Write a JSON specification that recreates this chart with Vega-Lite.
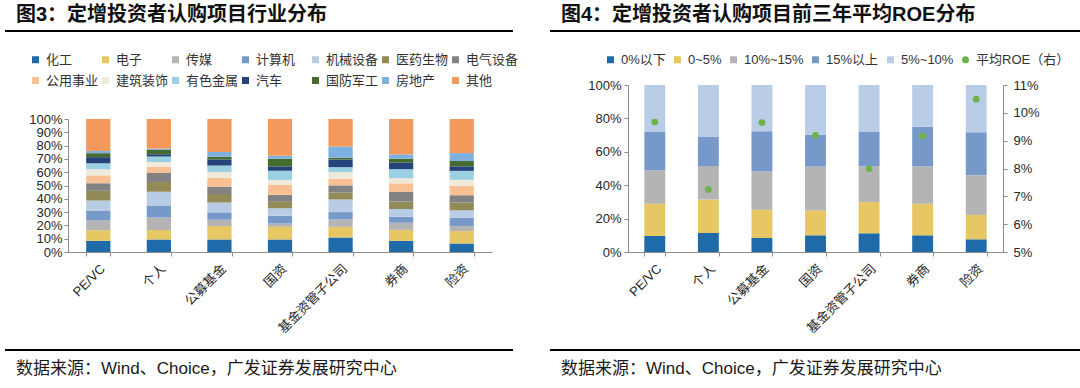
{
  "$schema": "https://vega.github.io/schema/vega-lite/v6.json",
  "padding": {"top": 5, "left": 4, "right": 0, "bottom": 0},
  "background": "white",
  "datasets": {
    "blank": [{}],
    "ind": [
      {"investor":"PE/VC","industry":"化工","k":0,"share":8.4},{"investor":"PE/VC","industry":"电子","k":1,"share":8.0},{"investor":"PE/VC","industry":"传媒","k":2,"share":7.4},{"investor":"PE/VC","industry":"计算机","k":3,"share":7.4},{"investor":"PE/VC","industry":"机械设备","k":4,"share":7.5},{"investor":"PE/VC","industry":"医药生物","k":5,"share":7.3},{"investor":"PE/VC","industry":"电气设备","k":6,"share":5.7},{"investor":"PE/VC","industry":"公用事业","k":7,"share":5.9},{"investor":"PE/VC","industry":"建筑装饰","k":8,"share":4.6},{"investor":"PE/VC","industry":"有色金属","k":9,"share":4.5},{"investor":"PE/VC","industry":"汽车","k":10,"share":4.6},{"investor":"PE/VC","industry":"国防军工","k":11,"share":3.0},{"investor":"PE/VC","industry":"房地产","k":12,"share":1.7},{"investor":"PE/VC","industry":"其他","k":13,"share":24.0},
      {"investor":"个人","industry":"化工","k":0,"share":9.4},{"investor":"个人","industry":"电子","k":1,"share":7.1},{"investor":"个人","industry":"传媒","k":2,"share":9.4},{"investor":"个人","industry":"计算机","k":3,"share":9.1},{"investor":"个人","industry":"机械设备","k":4,"share":10.3},{"investor":"个人","industry":"医药生物","k":5,"share":7.3},{"investor":"个人","industry":"电气设备","k":6,"share":6.8},{"investor":"个人","industry":"公用事业","k":7,"share":4.8},{"investor":"个人","industry":"建筑装饰","k":8,"share":3.4},{"investor":"个人","industry":"有色金属","k":9,"share":4.2},{"investor":"个人","industry":"汽车","k":10,"share":1.7},{"investor":"个人","industry":"国防军工","k":11,"share":3.2},{"investor":"个人","industry":"房地产","k":12,"share":1.0},{"investor":"个人","industry":"其他","k":13,"share":22.3},
      {"investor":"公募基金","industry":"化工","k":0,"share":9.4},{"investor":"公募基金","industry":"电子","k":1,"share":10.1},{"investor":"公募基金","industry":"传媒","k":2,"share":4.8},{"investor":"公募基金","industry":"计算机","k":3,"share":5.5},{"investor":"公募基金","industry":"机械设备","k":4,"share":7.4},{"investor":"公募基金","industry":"医药生物","k":5,"share":6.4},{"investor":"公募基金","industry":"电气设备","k":6,"share":5.6},{"investor":"公募基金","industry":"公用事业","k":7,"share":6.4},{"investor":"公募基金","industry":"建筑装饰","k":8,"share":4.5},{"investor":"公募基金","industry":"有色金属","k":9,"share":4.9},{"investor":"公募基金","industry":"汽车","k":10,"share":4.6},{"investor":"公募基金","industry":"国防军工","k":11,"share":2.0},{"investor":"公募基金","industry":"房地产","k":12,"share":3.6},{"investor":"公募基金","industry":"其他","k":13,"share":24.8},
      {"investor":"国资","industry":"化工","k":0,"share":9.4},{"investor":"国资","industry":"电子","k":1,"share":9.6},{"investor":"国资","industry":"传媒","k":2,"share":2.4},{"investor":"国资","industry":"计算机","k":3,"share":5.9},{"investor":"国资","industry":"机械设备","k":4,"share":5.6},{"investor":"国资","industry":"医药生物","k":5,"share":5.3},{"investor":"国资","industry":"电气设备","k":6,"share":4.8},{"investor":"国资","industry":"公用事业","k":7,"share":7.4},{"investor":"国资","industry":"建筑装饰","k":8,"share":3.8},{"investor":"国资","industry":"有色金属","k":9,"share":6.9},{"investor":"国资","industry":"汽车","k":10,"share":3.3},{"investor":"国资","industry":"国防军工","k":11,"share":5.6},{"investor":"国资","industry":"房地产","k":12,"share":2.4},{"investor":"国资","industry":"其他","k":13,"share":27.6},
      {"investor":"基金资管子公司","industry":"化工","k":0,"share":10.9},{"investor":"基金资管子公司","industry":"电子","k":1,"share":8.0},{"investor":"基金资管子公司","industry":"传媒","k":2,"share":5.6},{"investor":"基金资管子公司","industry":"计算机","k":3,"share":5.5},{"investor":"基金资管子公司","industry":"机械设备","k":4,"share":9.5},{"investor":"基金资管子公司","industry":"医药生物","k":5,"share":5.2},{"investor":"基金资管子公司","industry":"电气设备","k":6,"share":5.4},{"investor":"基金资管子公司","industry":"公用事业","k":7,"share":5.1},{"investor":"基金资管子公司","industry":"建筑装饰","k":8,"share":4.8},{"investor":"基金资管子公司","industry":"有色金属","k":9,"share":3.8},{"investor":"基金资管子公司","industry":"汽车","k":10,"share":5.7},{"investor":"基金资管子公司","industry":"国防军工","k":11,"share":1.3},{"investor":"基金资管子公司","industry":"房地产","k":12,"share":8.5},{"investor":"基金资管子公司","industry":"其他","k":13,"share":20.7},
      {"investor":"券商","industry":"化工","k":0,"share":8.4},{"investor":"券商","industry":"电子","k":1,"share":8.2},{"investor":"券商","industry":"传媒","k":2,"share":5.4},{"investor":"券商","industry":"计算机","k":3,"share":4.5},{"investor":"券商","industry":"机械设备","k":4,"share":5.8},{"investor":"券商","industry":"医药生物","k":5,"share":5.7},{"investor":"券商","industry":"电气设备","k":6,"share":7.3},{"investor":"券商","industry":"公用事业","k":7,"share":6.3},{"investor":"券商","industry":"建筑装饰","k":8,"share":3.9},{"investor":"券商","industry":"有色金属","k":9,"share":6.8},{"investor":"券商","industry":"汽车","k":10,"share":4.9},{"investor":"券商","industry":"国防军工","k":11,"share":3.0},{"investor":"券商","industry":"房地产","k":12,"share":3.2},{"investor":"券商","industry":"其他","k":13,"share":26.6},
      {"investor":"险资","industry":"化工","k":0,"share":6.4},{"investor":"险资","industry":"电子","k":1,"share":9.3},{"investor":"险资","industry":"传媒","k":2,"share":3.9},{"investor":"险资","industry":"计算机","k":3,"share":6.1},{"investor":"险资","industry":"机械设备","k":4,"share":5.6},{"investor":"险资","industry":"医药生物","k":5,"share":5.9},{"investor":"险资","industry":"电气设备","k":6,"share":5.5},{"investor":"险资","industry":"公用事业","k":7,"share":7.0},{"investor":"险资","industry":"建筑装饰","k":8,"share":4.6},{"investor":"险资","industry":"有色金属","k":9,"share":6.7},{"investor":"险资","industry":"汽车","k":10,"share":3.4},{"investor":"险资","industry":"国防军工","k":11,"share":4.0},{"investor":"险资","industry":"房地产","k":12,"share":6.0},{"investor":"险资","industry":"其他","k":13,"share":25.6}
    ],
    "roeDist": [
      {"investor":"PE/VC","range":"0%以下","k":0,"share":9.6},{"investor":"PE/VC","range":"0~5%","k":1,"share":19.3},{"investor":"PE/VC","range":"10%~15%","k":2,"share":20.0},{"investor":"PE/VC","range":"15%以上","k":3,"share":23.0},{"investor":"PE/VC","range":"5%~10%","k":4,"share":28.1},
      {"investor":"个人","range":"0%以下","k":0,"share":11.4},{"investor":"个人","range":"0~5%","k":1,"share":20.1},{"investor":"个人","range":"10%~15%","k":2,"share":20.0},{"investor":"个人","range":"15%以上","k":3,"share":17.6},{"investor":"个人","range":"5%~10%","k":4,"share":30.9},
      {"investor":"公募基金","range":"0%以下","k":0,"share":8.4},{"investor":"公募基金","range":"0~5%","k":1,"share":16.9},{"investor":"公募基金","range":"10%~15%","k":2,"share":23.0},{"investor":"公募基金","range":"15%以上","k":3,"share":24.0},{"investor":"公募基金","range":"5%~10%","k":4,"share":27.7},
      {"investor":"国资","range":"0%以下","k":0,"share":10.0},{"investor":"国资","range":"0~5%","k":1,"share":14.9},{"investor":"国资","range":"10%~15%","k":2,"share":26.2},{"investor":"国资","range":"15%以上","k":3,"share":19.2},{"investor":"国资","range":"5%~10%","k":4,"share":29.7},
      {"investor":"基金资管子公司","range":"0%以下","k":0,"share":11.2},{"investor":"基金资管子公司","range":"0~5%","k":1,"share":18.7},{"investor":"基金资管子公司","range":"10%~15%","k":2,"share":21.4},{"investor":"基金资管子公司","range":"15%以上","k":3,"share":20.6},{"investor":"基金资管子公司","range":"5%~10%","k":4,"share":28.1},
      {"investor":"券商","range":"0%以下","k":0,"share":10.0},{"investor":"券商","range":"0~5%","k":1,"share":18.9},{"investor":"券商","range":"10%~15%","k":2,"share":22.4},{"investor":"券商","range":"15%以上","k":3,"share":23.7},{"investor":"券商","range":"5%~10%","k":4,"share":25.0},
      {"investor":"险资","range":"0%以下","k":0,"share":7.6},{"investor":"险资","range":"0~5%","k":1,"share":14.6},{"investor":"险资","range":"10%~15%","k":2,"share":23.7},{"investor":"险资","range":"15%以上","k":3,"share":25.8},{"investor":"险资","range":"5%~10%","k":4,"share":28.3}
    ],
    "roeAvg": [
      {"investor":"PE/VC","roe":9.67},{"investor":"个人","roe":7.25},{"investor":"公募基金","roe":9.65},{"investor":"国资","roe":9.19},{"investor":"基金资管子公司","roe":7.99},{"investor":"券商","roe":9.17},{"investor":"险资","roe":10.49}
    ]
  },
  "config": {
    "view": {"stroke": null},
    "font": "Liberation Sans, Noto Sans CJK SC",
    "axis": {
      "labelFont": "Liberation Sans, Noto Sans CJK SC",
      "labelFontSize": 13,
      "labelColor": "#262626",
      "domainColor": "#8c8c8c",
      "tickColor": "#8c8c8c",
      "grid": false,
      "tickSize": 4
    },
    "legend": {
      "labelFont": "Liberation Sans, Noto Sans CJK SC",
      "labelFontSize": 13,
      "labelColor": "#333333",
      "padding": 0,
      "symbolSize": 49,
      "symbolStrokeWidth": 0,
      "labelOffset": 4
    },
    "title": {"anchor": "start", "font": "Liberation Sans, Noto Sans CJK SC", "color": "#111111"}
  },
  "resolve": {"scale": {"color": "independent"}, "legend": {"color": "independent"}},
  "spacing": 30,
  "hconcat": [
    {
      "spacing": 0,
      "resolve": {"scale": {"color": "independent"}, "legend": {"color": "independent"}},
      "vconcat": [
        {
          "width": 508,
          "height": 22,
          "title": {"text": "图3：定增投资者认购项目行业分布", "fontSize": 20, "fontWeight": "bold", "offset": 5, "dx": 12},
          "data": {"name": "blank"},
          "mark": {"type": "rule", "color": "#000000", "strokeWidth": 2},
          "encoding": {
            "x": {"datum": 0, "type": "quantitative", "scale": {"domain": [0, 1]}, "axis": null},
            "x2": {"datum": 1},
            "y": {"datum": 1, "type": "quantitative", "scale": {"domain": [0, 1]}, "axis": null}
          }
        },
        {
          "spacing": 0,
          "resolve": {"scale": {"color": "independent"}, "legend": {"color": "independent"}},
          "hconcat": [
            {
              "width": 1,
              "height": 1,
              "data": {"name": "blank"},
              "mark": {"type": "text", "text": ""},
              "encoding": {}
            },
            {
              "width": 424,
              "height": 133,
              "data": {"name": "ind"},
              "mark": {"type": "bar"},
              "encoding": {
                "x": {
                  "field": "investor", "type": "nominal",
                  "scale": {"domain": ["PE/VC","个人","公募基金","国资","基金资管子公司","券商","险资"], "paddingInner": 0.6, "paddingOuter": 0.3},
                  "axis": {"title": null, "labelAngle": -45, "tickBand": "extent", "labelPadding": 6, "minExtent": 97}
                },
                "y": {
                  "field": "share", "type": "quantitative", "stack": "normalize",
                  "scale": {"domain": [0, 1]},
                  "axis": {"title": null, "values": [0,0.1,0.2,0.3,0.4,0.5,0.6,0.7,0.8,0.9,1], "format": ".0%", "labelFontSize": 13, "labelPadding": 2, "minExtent": 62, "labelOverlap": false}
                },
                "color": {
                  "field": "industry", "type": "nominal",
                  "scale": {
                    "domain": ["化工","电子","传媒","计算机","机械设备","医药生物","电气设备","公用事业","建筑装饰","有色金属","汽车","国防军工","房地产","其他"],
                    "range": ["#1f6aa8","#e6c764","#b4b4b4","#7799c9","#b8cce6","#928b57","#828282","#f9c094","#f0eadb","#9ad0e1","#25427a","#456b2f","#7eb1e0","#f2995b"]
                  },
                  "legend": {"title": null, "orient": "none", "legendX": -39, "legendY": -66, "direction": "horizontal", "columns": 7, "gridAlign": "all", "columnPadding": -4, "rowPadding": 7, "symbolType": "square"}
                },
                "order": {"field": "k", "type": "quantitative"}
              }
            }
          ]
        },
        {
          "width": 508,
          "height": 2,
          "title": {"text": "数据来源：Wind、Choice，广发证券发展研究中心", "orient": "bottom", "fontSize": 17, "fontWeight": "normal", "offset": 10, "dx": 12, "color": "#1a1a1a"},
          "data": {"name": "blank"},
          "mark": {"type": "rule", "color": "#000000", "strokeWidth": 2},
          "encoding": {
            "x": {"datum": 0, "type": "quantitative", "scale": {"domain": [0, 1]}, "axis": null},
            "x2": {"datum": 1}
          }
        }
      ]
    },
    {
      "spacing": 0,
      "resolve": {"scale": {"color": "independent"}, "legend": {"color": "independent"}},
      "vconcat": [
        {
          "width": 535,
          "height": 22,
          "title": {"text": "图4：定增投资者认购项目前三年平均ROE分布", "fontSize": 20, "fontWeight": "bold", "offset": 5, "dx": 12},
          "data": {"name": "blank"},
          "mark": {"type": "rule", "color": "#000000", "strokeWidth": 2},
          "encoding": {
            "x": {"datum": 0, "type": "quantitative", "scale": {"domain": [0, 1]}, "axis": null},
            "x2": {"datum": 1},
            "y": {"datum": 1, "type": "quantitative", "scale": {"domain": [0, 1]}, "axis": null}
          }
        },
        {
          "spacing": 0,
          "resolve": {"scale": {"color": "independent"}, "legend": {"color": "independent"}},
          "hconcat": [
            {
              "width": 1,
              "height": 1,
              "data": {"name": "blank"},
              "mark": {"type": "text", "text": ""},
              "encoding": {}
            },
            {
              "width": 375,
              "height": 167,
              "layer": [
                {
                  "data": {"name": "roeDist"},
                  "mark": {"type": "bar"},
                  "encoding": {
                    "x": {
                      "field": "investor", "type": "nominal",
                      "scale": {"domain": ["PE/VC","个人","公募基金","国资","基金资管子公司","券商","险资"], "paddingInner": 0.61, "paddingOuter": 0.305},
                      "axis": {"title": null, "labelAngle": -45, "tickBand": "extent", "labelPadding": 6, "minExtent": 97}
                    },
                    "y": {
                      "field": "share", "type": "quantitative", "stack": "normalize",
                      "scale": {"domain": [0, 1]},
                      "axis": {"title": null, "orient": "left", "values": [0,0.2,0.4,0.6,0.8,1], "format": ".0%", "labelPadding": 3, "minExtent": 77}
                    },
                    "color": {
                      "field": "range", "type": "nominal",
                      "scale": {
                        "domain": ["0%以下","0~5%","10%~15%","15%以上","5%~10%","平均ROE（右）"],
                        "range": ["#1f6aa8","#e6c764","#b4b4b4","#7799c9","#b9cde6","#6db34a"]
                      },
                      "legend": {
                        "title": null, "orient": "none", "legendX": -24, "legendY": -32, "direction": "horizontal", "columns": 6, "columnPadding": 5,
                        "encode": {"symbols": {"update": {"shape": {"signal": "datum.label === '平均ROE（右）' ? 'circle' : 'square'"}}}}
                      }
                    },
                    "order": {"field": "k", "type": "quantitative"}
                  }
                },
                {
                  "data": {"name": "roeAvg"},
                  "mark": {"type": "point", "filled": true, "size": 45, "opacity": 1},
                  "encoding": {
                    "x": {"field": "investor", "type": "nominal"},
                    "y": {
                      "field": "roe", "type": "quantitative",
                      "scale": {"domain": [5, 11], "zero": false, "nice": false},
                      "axis": {"title": null, "orient": "right", "values": [5,6,7,8,9,10,11], "labelExpr": "datum.value + '%'", "labelPadding": 6}
                    },
                    "color": {"datum": "平均ROE（右）", "type": "nominal"}
                  }
                }
              ],
              "resolve": {"scale": {"y": "independent"}}
            }
          ]
        },
        {
          "width": 535,
          "height": 2,
          "title": {"text": "数据来源：Wind、Choice，广发证券发展研究中心", "orient": "bottom", "fontSize": 17, "fontWeight": "normal", "offset": 10, "dx": 12, "color": "#1a1a1a"},
          "data": {"name": "blank"},
          "mark": {"type": "rule", "color": "#000000", "strokeWidth": 2},
          "encoding": {
            "x": {"datum": 0, "type": "quantitative", "scale": {"domain": [0, 1]}, "axis": null},
            "x2": {"datum": 1}
          }
        }
      ]
    }
  ]
}
